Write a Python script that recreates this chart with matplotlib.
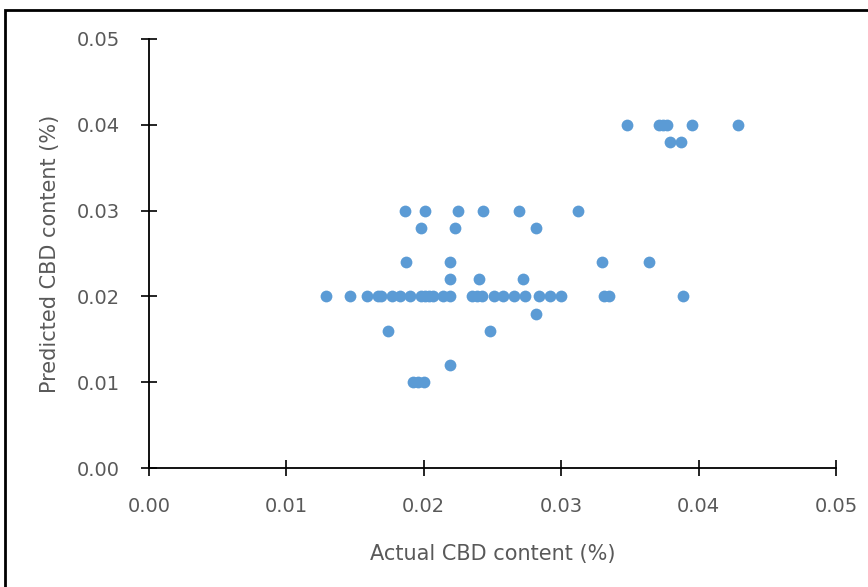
import matplotlib
matplotlib.use("Agg")
import matplotlib.pyplot as plt
from matplotlib.patches import Rectangle

# actual vs predicted CBD content (%)
actual = [
    0.0348, 0.0371, 0.0374, 0.0377, 0.0395, 0.0429,
    0.0379, 0.0387,
    0.0186, 0.0201, 0.0225, 0.0243, 0.0269, 0.0312,
    0.0198, 0.0223, 0.0282,
    0.0187, 0.0219, 0.0330, 0.0364,
    0.0219, 0.0240, 0.0272,
    0.0129, 0.0146, 0.0159, 0.0167, 0.0169, 0.0177, 0.0183, 0.0190,
    0.0198, 0.0201, 0.0204, 0.0207, 0.0214, 0.0219, 0.0235, 0.0239,
    0.0242, 0.0251, 0.0258, 0.0266, 0.0274, 0.0284, 0.0292, 0.0300,
    0.0331, 0.0335, 0.0389,
    0.0282,
    0.0174, 0.0248,
    0.0219,
    0.0192, 0.0196, 0.0200,
]
predicted = [
    0.040, 0.040, 0.040, 0.040, 0.040, 0.040,
    0.038, 0.038,
    0.030, 0.030, 0.030, 0.030, 0.030, 0.030,
    0.028, 0.028, 0.028,
    0.024, 0.024, 0.024, 0.024,
    0.022, 0.022, 0.022,
    0.020, 0.020, 0.020, 0.020, 0.020, 0.020, 0.020, 0.020,
    0.020, 0.020, 0.020, 0.020, 0.020, 0.020, 0.020, 0.020,
    0.020, 0.020, 0.020, 0.020, 0.020, 0.020, 0.020, 0.020,
    0.020, 0.020, 0.020,
    0.018,
    0.016, 0.016,
    0.012,
    0.010, 0.010, 0.010,
]
ticks = [0.00, 0.01, 0.02, 0.03, 0.04, 0.05]
tick_labels = ["0.00", "0.01", "0.02", "0.03", "0.04", "0.05"]

fig = plt.figure(figsize=(8.68, 5.87), dpi=100)
ax = fig.add_axes([0.1717, 0.2027, 0.7914, 0.7309])

ax.scatter(actual, predicted, s=72, color="#5B9BD5", linewidths=0, zorder=3)

ax.set_xlim(0, 0.05)
ax.set_ylim(0, 0.05)
ax.set_xticks(ticks)
ax.set_xticklabels(tick_labels)
ax.set_yticks(ticks)
ax.set_yticklabels(tick_labels)

for side in ["top", "right"]:
    ax.spines[side].set_visible(False)
for side in ["left", "bottom"]:
    ax.spines[side].set_linewidth(1.3)
    ax.spines[side].set_color("black")

ax.tick_params(axis="x", direction="inout", length=12, width=1.2,
               pad=15, labelsize=14, labelcolor="#595959")
ax.tick_params(axis="y", direction="inout", length=12, width=1.2,
               pad=15, labelsize=14, labelcolor="#595959")

ax.set_xlabel("Actual CBD content (%)", fontsize=15, color="#595959", labelpad=20)
ax.set_ylabel("Predicted CBD content (%)", fontsize=15, color="#595959", labelpad=12)

# outer frame of the original figure (cut off on the right and bottom)
fig.patches.append(Rectangle((5 / 868, -0.05), 1.1, 0.05 + 1 - 10 / 587,
                             transform=fig.transFigure, fill=False,
                             edgecolor="black", linewidth=2))

fig.savefig("out.png", dpi=100)
